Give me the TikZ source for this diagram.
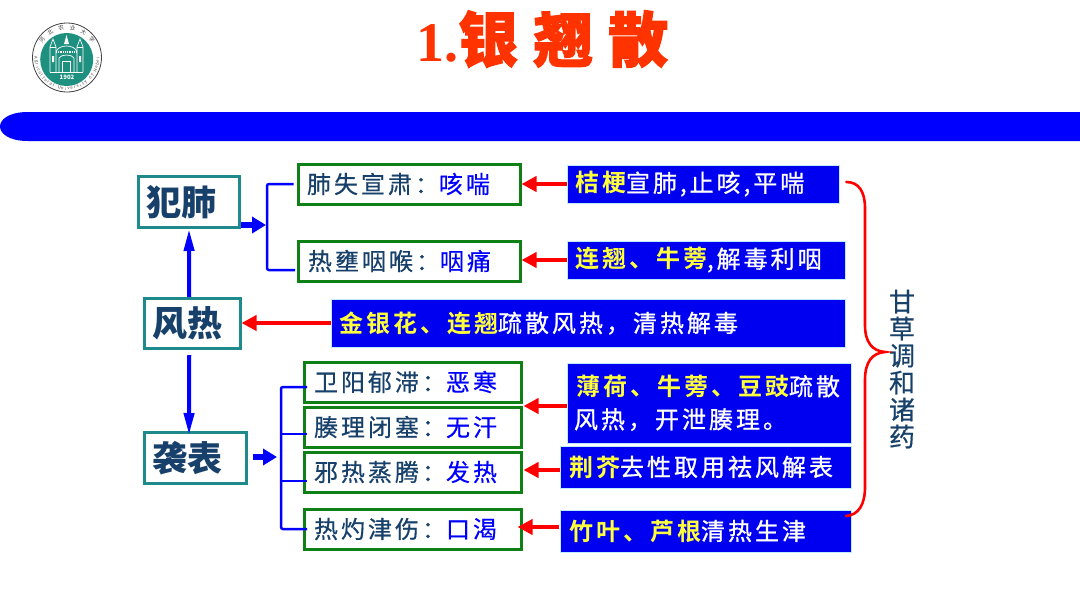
\documentclass[tikz,border=0pt]{standalone}
\usepackage{fontspec}
\setmainfont{Noto Sans CJK SC}
\newfontfamily\latinb{Liberation Serif}
\newfontfamily\cjkbold[LetterSpace=12.5]{Noto Sans CJK SC Bold}
\usetikzlibrary{arrows.meta,calc}
\definecolor{tealb}{HTML}{1F8A8C}
\definecolor{greenb}{HTML}{0F8015}
\definecolor{navy}{HTML}{17406A}
\definecolor{pureb}{HTML}{0000F0}
\definecolor{yel}{HTML}{FFFF3C}
\definecolor{redt}{HTML}{FF3300}
\definecolor{sealg}{HTML}{1E9080}
\newcommand{\Yy}[1]{\textcolor{yel}{\cjkbold #1}}
\newcommand{\Bb}[1]{\textcolor{blue}{#1}}
% name, style, x1, y1, x2, y2, left padding, text
\newcommand{\bx}[8]{%
  \pgfmathsetmacro{\cxx}{(#3+#5)/2}\pgfmathsetmacro{\cyy}{(#4+#6)/2}%
  \pgfmathsetmacro{\wdd}{#5-#3}\pgfmathsetmacro{\htt}{#6-#4}%
  \pgfmathsetmacro{\txx}{#5-#3}%
  \node[#2,minimum width=\wdd pt,minimum height=\htt pt,text width=\txx pt,inner xsep=0pt,inner ysep=0pt,
    align=left] (#1) at (\cxx,\cyy) {\hspace*{#7pt}#8};}
\tikzset{x=1pt,y=-1pt,
  tealbox/.style={draw=tealb,line width=3pt,fill=white,text=navy,font=\fontsize{35}{37}\selectfont\bfseries},
  greenbox/.style={draw=greenb,line width=3pt,fill=white,text=navy,font=\fontsize{24}{26}\selectfont\addfontfeature{LetterSpace=12.5,FakeBold=0.5}},
  bluebox/.style={fill=pureb,draw=cyan!25,line width=.6pt,text=white,font=\fontsize{24}{33}\selectfont\addfontfeature{LetterSpace=12.5,FakeBold=1}},
  redarrow/.style={draw=red,line width=4.5pt,-{Triangle[length=15pt,width=15pt]}},
  upblue/.style={draw=blue,line width=4pt,-{Triangle[length=22pt,width=10pt]}},
  fatblue/.style={draw=blue,line width=5.5pt,-{Triangle[length=14pt,width=16pt]}},
  bracketb/.style={draw=blue,line width=2.5pt,rounded corners=2pt},
  sealtext/.style={inner sep=0pt,text=black!75,font=\fontsize{5}{5}\selectfont},
}
\begin{document}
\begin{tikzpicture}
\useasboundingbox (0,0) rectangle (1080,608);
\fill[white] (0,0) rectangle (1080,608);
% bar
\fill[blue] (28,112) -- (1080,112) -- (1080,141) -- (28,141) .. controls (8,141) and (0,133) .. (0,126.5) .. controls (0,120) and (8,112) .. (28,112) -- cycle;
% logo
\draw[black!75,line width=.8pt,fill=white] (67,57.5) circle [radius=34.5];
\fill[sealg] (66.7,59.5) circle [radius=26.5];
\begin{scope}[draw=white,line width=.7pt]
  \draw (50,72) -- (50,47) -- (53,39) -- (56,47) -- (56,72);
  \draw (77,72) -- (77,47) -- (80,39) -- (83,47) -- (83,72);
  \draw (50,47) -- (56,47) (77,47) -- (83,47);
  \draw (56,52) .. controls (58,44) and (75,44) .. (77,52);
  \draw[line width=1.4pt,dash pattern=on 1pt off .8pt] (56,52) -- (77,52);
  \draw (59,72) -- (59,58) .. controls (61,54) and (72,54) .. (74,58) -- (74,72);
  \draw (62.5,72) -- (62.5,61) -- (70.5,61) -- (70.5,72);
  \draw (50,72) -- (83,72);
  \fill[white] (66.5,35) -- (69,44) -- (64,44) -- cycle;
  \fill[white] (52,56) rectangle (54,62) (79,56) rectangle (81,62);
\end{scope}
\node[text=white,font=\fontsize{6}{6}\selectfont\bfseries,inner sep=0pt] (yr) at (67,77.5) {1902};
\foreach \ch [count=\i] in {河,北,农,业,大,学}{
  \pgfmathsetmacro{\ang}{145-(\i-1)*22}
  \node[sealtext,font=\fontsize{5.5}{5.5}\selectfont,rotate=\ang-90] (sealtop\i) at ({67+30.5*cos(\ang)},{57.5-30.5*sin(\ang)}) {\ch};
}
\foreach \ch [count=\i] in {A,g,r,i,c,u,l,t,u,r,a,l,{},U,n,i,v,e,r,s,i,t,y,{},o,f,{},H,e,b,e,i}{
  \pgfmathsetmacro{\ang}{181+(\i-1)*5.75}
  \node[sealtext,font=\fontsize{4.2}{5}\selectfont,rotate=\ang+90] (sealbot\i) at ({67+31*cos(\ang)},{57.5-31*sin(\ang)}) {\ch};
}
% title
\node[anchor=west,text=redt,inner sep=0pt,font=\fontsize{60}{62}\selectfont\bfseries] (title) at (416,39)
  {{\latinb\fontsize{56}{58}\selectfont 1.}\addfontfeature{FakeBold=2}银\hspace{15pt}翘\hspace{15pt}散};
% left boxes
\bx{fanfei}{tealbox}{138.5}{176.5}{239.5}{227.5}{8}{犯肺}
\bx{fengre}{tealbox}{144.5}{298.5}{240}{348.5}{8}{风热}
\bx{xibiao}{tealbox}{144.5}{432.5}{246.5}{483.5}{8}{袭表}
% green boxes
\bx{g1}{greenbox}{298}{164}{520}{204}{9}{肺失宣肃：\Bb{咳喘}}
\bx{g2}{greenbox}{298}{241}{520}{281}{10}{热壅咽喉：\Bb{咽痛}}
\bx{g3}{greenbox}{304}{362}{521}{402}{10}{卫阳郁滞：\Bb{恶寒}}
\bx{g4}{greenbox}{304}{407}{521}{447}{10}{腠理闭塞：\Bb{无汗}}
\bx{g5}{greenbox}{304}{452}{521}{492}{10}{邪热蒸腾：\Bb{发热}}
\bx{g6}{greenbox}{304}{509}{521}{549}{10}{热灼津伤：\Bb{口渴}}
% blue boxes
\bx{b1}{bluebox}{567}{165}{839}{203}{8}{\Yy{桔梗}宣肺,止咳,平喘}
\bx{b2}{bluebox}{567}{241}{845}{279}{8}{\Yy{连翘、牛蒡},解毒利咽}
\bx{b3}{bluebox}{331}{299}{845}{347}{8}{\Yy{金银花、连翘}疏散风热，清热解毒}
\bx{b4}{bluebox}{567}{363}{851}{443}{9}{\Yy{薄荷、牛蒡、豆豉}疏散\\\hspace*{7pt}风热，开泄腠理。}
\bx{b5}{bluebox}{560}{446}{851}{488}{9}{\Yy{荆芥}去性取用祛风解表}
\bx{b6}{bluebox}{560}{510}{851}{552}{9}{\Yy{竹叶、芦根}清热生津}
% vertical text
\node[text=navy,inner sep=0pt,align=center,font=\fontsize{26}{27}\selectfont\addfontfeature{FakeBold=0.5}] (gancao) at (902,369)
  {甘\\草\\调\\和\\诸\\药};
% red arrows
\draw[redarrow] (b1.west) -- (b1.west -| g1.east);
\draw[redarrow] (b2.west) -- (b2.west -| g2.east);
\draw[redarrow] (b3.west) -- (b3.west -| fengre.east);
\draw[redarrow] ($(b4.west)+(0,3)$) -- ($(b4.west -| g3.east)+(1,3)$);
\draw[redarrow] ($(b5.west)+(0,3)$) -- ($(b5.west -| g5.east)+(1,3)$);
\draw[redarrow] ($(b6.west)+(-1,-4)$) -- ($(b6.west -| g6.east)+(-5,-4)$);
% blue arrows
\draw[upblue] ($(fengre.north)+(-3,0)$) -- (fanfei.south -| 189,0);
\draw[upblue] ($(fengre.south)+(-3,5)$) -- ($(xibiao.north -| 189,0)+(0,4)$);
\draw[fatblue] ($(fanfei.east)+(0,23)$) -- ++(25,0) coordinate (fa);
\draw[fatblue] ($(xibiao.east)+(5,-1)$) -- ++(24,0) coordinate (xa);
% brackets
\draw[bracketb] ($(g1.west)+(-3,0)$) -| (267,270) -- (295,270);
\draw[bracketb] (307,387) -- (281,387) -- (281,529) -- (307,529);
\draw[draw=blue,line width=2.5pt] (281,434) -- (307,434) (281,481) -- (307,481);
% brace
\draw[red,line width=2.6pt,line cap=round] ($(b1.east)+(7,-2)$) .. controls (859,182) and (865,192) .. (865,208)
  -- (865,325) .. controls (865,342) and (872,351) .. (885,352)
  .. controls (872,353) and (865,362) .. (865,380) -- (865,487) .. controls (865,504) and (859,515) .. (846,516);
\end{tikzpicture}
\end{document}
